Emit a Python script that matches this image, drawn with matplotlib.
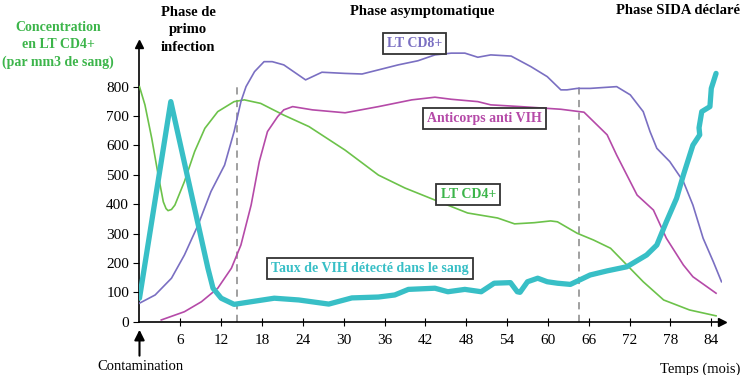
import numpy as np
import matplotlib.pyplot as plt

plt.rcParams['font.family'] = ['Liberation Serif', 'DejaVu Serif']

# LT CD4+ (vert)
cd4_t = [0, 0.8, 1.8, 2.75, 3.5, 3.9, 4.2, 4.7, 5.2, 6.6, 8.1, 9.6, 11.5, 13.9, 15.4, 17.8,
         21.2, 24.9, 30.2, 35.1, 39, 43.4, 48.2, 52.6, 55.1, 58, 60.4, 61.4, 64.3, 66.7,
         69.2, 71.6, 74, 77, 80.8, 84.7]
cd4_v = [800, 738, 624, 499, 408, 385, 378, 382, 397, 477, 579, 658, 715, 749, 755, 743,
         703, 664, 584, 499, 455, 414, 370, 353, 333, 337, 343, 340, 301, 278,
         250, 193, 136, 74, 40, 20]

# LT CD8+ (violet)
cd8_t = [0, 2.3, 4.7, 6.6, 8.6, 10.5, 12.5, 13.9, 14.9, 15.65, 16.9, 18.3, 19.5, 21.2, 24.4,
         26.8, 30.2, 32.7, 35.1, 38, 40.9, 43.4, 45.8, 47.8, 49.7, 51.6, 54.6, 57.5, 59.9,
         61.9, 62.8, 64.3, 66.2, 70.1, 72.1, 74, 75, 76, 77.9, 79.9, 81.3, 82.8, 84.3, 85.5]
cd8_v = [63, 91, 148, 227, 329, 443, 533, 647, 749, 800, 851, 885, 885, 874, 823,
         849, 845, 843, 857, 874, 888, 908, 914, 914, 900, 908, 904, 868, 834,
         789, 789, 794, 794, 800, 772, 715, 647, 590, 545, 477, 397, 284, 204, 136]

# Anticorps anti VIH (magenta)
ac_t = [3.2, 6.6, 9.1, 11.5, 13.5, 14.9, 16.4, 17.6, 18.8, 20.3, 21.2, 22.5, 25.4, 30.2,
        35.1, 40, 43.4, 45.8, 49.7, 51.6, 56, 61.9, 65.3, 67.2, 68.7, 70.1, 73.1, 75.5,
        77.4, 79.9, 81.3, 84.7]
ac_v = [6, 34, 68, 114, 182, 261, 397, 545, 647, 698, 721, 732, 721, 711,
        732, 755, 764, 757, 749, 738, 732, 723, 713, 670, 636, 567, 431, 380,
        284, 193, 153, 97]

# Taux de VIH (cyan)
vih_t = [0, 4.6, 10.05, 10.8, 12, 13.9, 16.4, 19.8, 23.4, 27.8, 31.2, 35.1, 37.5, 39.5, 43.4,
         45.3, 47.8, 50.2, 52.1, 54.5, 55.5, 55.9, 57, 58.5, 59.9, 61.4, 63.3, 66.2, 68.7,
         71.6, 74.5, 76, 77.4, 78.9, 79.9, 81.3, 82.3, 82.2, 82.6, 83.8, 84, 84.7]
vih_v = [80, 749, 182, 114, 80, 59, 68, 80, 74, 60, 81, 84, 91, 110, 114,
         102, 110, 102, 131, 133, 102, 100, 136, 148, 136, 131, 127, 159, 173,
         187, 227, 261, 340, 420, 499, 601, 636, 660, 715, 732, 794, 845]

yticks = list(range(0, 900, 100))
xticks = list(range(6, 90, 6))

c_green = '#6cc24a'
c_green_txt = '#3cb54a'
c_purple = '#7a6fc2'
c_magenta = '#b54aa8'
c_cyan = '#38bfc6'

fig = plt.figure(figsize=(7.4, 3.75), dpi=100)
ax = fig.add_axes([0.1885, 0.1421, 0.7865, 0.7405])
ax.set_xlim(0, 85.5)
ax.set_ylim(0, 945)

ax.plot(cd4_t, cd4_v, color=c_green, lw=1.2, zorder=3)
ax.plot(cd8_t, cd8_v, color=c_purple, lw=1.2, zorder=3)
ax.plot(ac_t, ac_v, color=c_magenta, lw=1.2, zorder=3)
ax.plot(vih_t, vih_v, color=c_cyan, lw=3.8, solid_capstyle='round',
        solid_joinstyle='round', zorder=4)

# limites des phases
for xv in (14.3, 64.6):
    ax.plot([xv, xv], [0, 800], color='#999999', ls=(0, (4, 3)), lw=1.3, zorder=2)

for s in ('top', 'right'):
    ax.spines[s].set_visible(False)
for s in ('left', 'bottom'):
    ax.spines[s].set_linewidth(1.2)
ax.plot(1, 0, '>k', ms=6, transform=ax.transAxes, clip_on=False)
ax.plot(0, 1, '^k', ms=6, transform=ax.transAxes, clip_on=False)

ax.set_yticks(yticks)
ax.set_xticks(xticks)
ax.tick_params(axis='y', direction='out', length=4, labelsize=11)
ax.tick_params(axis='x', direction='inout', length=6, labelsize=11, pad=6)

box = dict(boxstyle='square,pad=0.3', fc='white', ec='#333333', lw=1.3)
ax.text(40.4, 947, 'LT CD8+', color=c_purple, fontsize=10, fontweight='bold',
        ha='center', va='center', bbox=box, zorder=5)
ax.text(50.7, 692, 'Anticorps anti VIH', color=c_magenta, fontsize=10, fontweight='bold',
        ha='center', va='center', bbox=box, zorder=5)
ax.text(48.3, 433, 'LT CD4+', color=c_green_txt, fontsize=10, fontweight='bold',
        ha='center', va='center', bbox=box, zorder=5)
ax.text(33.8, 180, 'Taux de VIH détecté dans le sang', color=c_cyan, fontsize=10,
        fontweight='bold', ha='center', va='center', bbox=box, zorder=5)

fig.text(188 / 740, 1 - 30 / 375, 'Phase de\nprimo\ninfection', ha='center', va='center',
         fontsize=10.5, fontweight='bold', linespacing=1.45)
fig.text(422 / 740, 1 - 11 / 375, 'Phase asymptomatique', ha='center', va='center',
         fontsize=10.5, fontweight='bold')
fig.text(678 / 740, 1 - 11 / 375, 'Phase SIDA déclaré', ha='center', va='center',
         fontsize=10.5, fontweight='bold')
fig.text(58 / 740, 1 - 45 / 375, 'Concentration\nen LT CD4+\n(par mm3 de sang)',
         ha='center', va='center', fontsize=10, fontweight='bold', color=c_green_txt,
         linespacing=1.4)

ax.annotate('', xy=(0, -18), xytext=(0, -125),
            arrowprops=dict(arrowstyle='-|>,head_width=0.3,head_length=0.6', color='black', lw=1.5),
            annotation_clip=False)
fig.text(140 / 740, 1 - 367 / 375, 'Contamination', ha='center', va='center', fontsize=10.5)
fig.text(700 / 740, 1 - 369 / 375, 'Temps (mois)', ha='center', va='center', fontsize=10.5)

fig.savefig('out.png', dpi=100)
